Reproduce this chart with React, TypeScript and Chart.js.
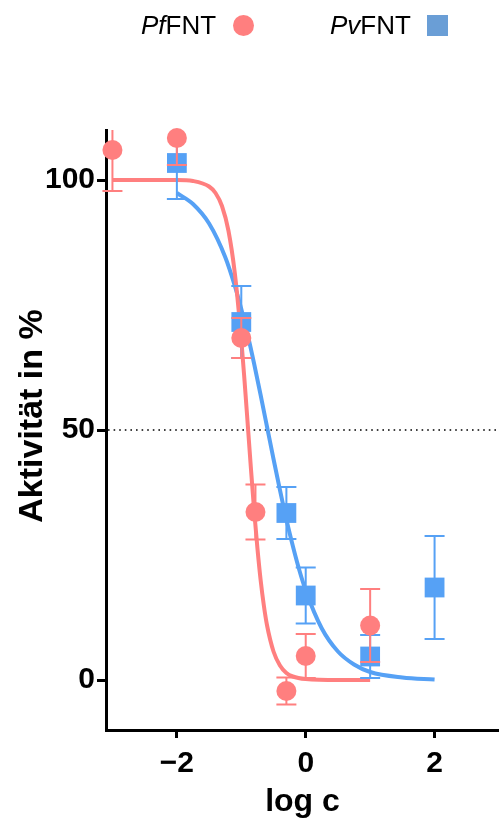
import React, { useEffect, useRef } from "react";
import { Chart, registerables } from "chart.js";

Chart.register(...registerables);

// ---- axis settings ----
const xTicks = [-2, 0, 2];
const yTicks = [0, 50, 100];
const xMin = -3.1;
const xMax = 3;
const yMin = -10;
const yMax = 110;
const halfActivity = 50;
const xTitle = "log c";
const yTitle = "Aktivität in %";

// ---- PfFNT measured points (log c, activity %, error) ----
const pfX = [-3, -2, -1, -0.78, -0.3, 0, 1];
const pfY = [106, 108.4, 68.4, 33.6, -2.2, 4.8, 10.9];
const pfErr = [8.2, 5.4, 4, 5.5, 2.7, 4.4, 7.3];

// ---- PvFNT measured points ----
const pvX = [-2, -1, -0.3, 0, 1, 2];
const pvY = [103.4, 71.6, 33.4, 16.9, 4.7, 18.5];
const pvErr = [7.2, 7.2, 5.2, 5.6, 4.3, 10.3];

// ---- fitted curves ----
const pfCurveX = [-3, -2.5, -2, -1.75, -1.5, -1.4, -1.3, -1.2, -1.1, -1.0, -0.95, -0.9, -0.85, -0.8, -0.75, -0.7, -0.65, -0.6, -0.5, -0.4, -0.3, -0.2, 0, 0.5, 1];
const pfCurveY = [100, 100, 100, 99.8, 98.7, 97.4, 94.8, 89.9, 81.3, 68.1, 59.9, 51.1, 42.2, 33.8, 26.4, 20.0, 14.9, 10.9, 5.7, 2.9, 1.4, 0.7, 0.2, 0, 0];

const pvCurveX = [-2, -1.75, -1.5, -1.25, -1.1, -1.0, -0.9, -0.8, -0.7, -0.6, -0.5, -0.4, -0.3, -0.2, -0.1, 0, 0.25, 0.5, 0.75, 1, 1.5, 2];
const pvCurveY = [97.4, 95.2, 91.3, 84.6, 78.8, 74.2, 69.0, 63.2, 57.0, 50.6, 44.2, 38.0, 32.1, 26.8, 22.0, 17.9, 10.3, 5.7, 3.1, 1.6, 0.5, 0.1];

const RED = "#FF7F7F";
const BLUE = "#56A1F5";
const BLUE_LEGEND = "#6A9ED6";
const FONT = "'Liberation Sans', Arial, Helvetica, sans-serif";
const W = 499;
const H = 821;

const zip = (xs: number[], ys: number[]) => xs.map((x, i) => ({ x, y: ys[i] }));

const errorBarPlugin = {
  id: "errorBars",
  beforeDatasetDraw(chart: any, args: any) {
    const ds = chart.data.datasets[args.index];
    if (!ds.errors) return;
    const { ctx } = chart;
    const xs = chart.scales.x;
    const ys = chart.scales.y;
    const cap = 10;
    ctx.save();
    ctx.strokeStyle = ds.errorColor;
    ctx.lineWidth = 2;
    ds.data.forEach((p: any, i: number) => {
      const e = ds.errors[i];
      const px = xs.getPixelForValue(p.x);
      const hi = p.y + e;
      const lo = p.y - e;
      const yHi = ys.getPixelForValue(Math.min(hi, ys.max));
      const yLo = ys.getPixelForValue(Math.max(lo, ys.min));
      ctx.beginPath();
      ctx.moveTo(px, yHi);
      ctx.lineTo(px, yLo);
      if (hi <= ys.max) {
        ctx.moveTo(px - cap, yHi);
        ctx.lineTo(px + cap, yHi);
      }
      if (lo >= ys.min) {
        ctx.moveTo(px - cap, yLo);
        ctx.lineTo(px + cap, yLo);
      }
      ctx.stroke();
    });
    ctx.restore();
  },
};

const refLinePlugin = {
  id: "refLine",
  beforeDatasetsDraw(chart: any) {
    const { ctx, chartArea } = chart;
    const y = chart.scales.y.getPixelForValue(halfActivity);
    ctx.save();
    ctx.strokeStyle = "#000";
    ctx.lineWidth = 1.6;
    ctx.setLineDash([1.6, 4]);
    ctx.beginPath();
    ctx.moveTo(chartArea.left + 2, y);
    ctx.lineTo(chartArea.right, y);
    ctx.stroke();
    ctx.restore();
  },
};

// y-axis title, drawn beside the axis and centred a little above the plot middle
const yTitlePlugin = {
  id: "yTitle",
  afterDraw(chart: any) {
    const { ctx, chartArea } = chart;
    const cy = (chartArea.top + chartArea.bottom) / 2 - 14;
    ctx.save();
    ctx.translate(33, cy);
    ctx.rotate(-Math.PI / 2);
    ctx.fillStyle = "#000";
    ctx.font = `bold 34px ${FONT}`;
    ctx.textAlign = "center";
    ctx.textBaseline = "middle";
    ctx.fillText(yTitle, 0, 0);
    ctx.restore();
  },
};

export default function App() {
  const canvasRef = useRef<HTMLCanvasElement | null>(null);

  useEffect(() => {
    if (!canvasRef.current) return;
    const chart = new Chart(canvasRef.current, {
      type: "scatter",
      data: {
        datasets: [
          {
            label: "PfFNT",
            data: zip(pfX, pfY),
            backgroundColor: RED,
            borderColor: RED,
            borderWidth: 0,
            pointStyle: "circle",
            pointRadius: 10,
            clip: false,
            order: 0,
            errors: pfErr,
            errorColor: RED,
          } as any,
          {
            label: "PvFNT",
            data: zip(pvX, pvY),
            backgroundColor: BLUE,
            borderColor: BLUE,
            borderWidth: 0,
            pointStyle: "rect",
            pointRadius: 14,
            clip: false,
            order: 1,
            errors: pvErr,
            errorColor: BLUE,
          } as any,
          {
            label: "PfFNT fit",
            data: zip(pfCurveX, pfCurveY),
            showLine: true,
            borderColor: RED,
            borderWidth: 4,
            pointRadius: 0,
            cubicInterpolationMode: "monotone",
            order: 2,
          } as any,
          {
            label: "PvFNT fit",
            data: zip(pvCurveX, pvCurveY),
            showLine: true,
            borderColor: BLUE,
            borderWidth: 4,
            pointRadius: 0,
            cubicInterpolationMode: "monotone",
            order: 3,
          } as any,
        ],
      },
      options: {
        animation: false,
        responsive: false,
        maintainAspectRatio: false,
        devicePixelRatio: 1,
        layout: { autoPadding: false, padding: { top: 130, left: 0, right: 0, bottom: 0 } },
        plugins: {
          legend: { display: false },
          tooltip: { enabled: false },
        },
        scales: {
          x: {
            type: "linear",
            min: xMin,
            max: xMax,
            afterBuildTicks: (s: any) => {
              s.ticks = xTicks.map((v) => ({ value: v }));
            },
            afterFit: (s: any) => {
              s.height = 91;
              s.paddingLeft = 0;
              s.paddingRight = 0;
            },
            border: { display: true, color: "#000", width: 3 },
            grid: {
              display: true,
              drawOnChartArea: false,
              drawTicks: true,
              tickLength: 8,
              tickWidth: 3,
              tickColor: "#000",
            },
            ticks: {
              color: "#000",
              padding: 8,
              font: { family: FONT, size: 30, weight: "bold" },
              callback: (v: any) => (Number(v) < 0 ? "\u2212" + Math.abs(Number(v)) : String(v)),
            },
            title: {
              display: true,
              text: xTitle,
              color: "#000",
              font: { family: FONT, size: 32, weight: "bold" },
              padding: { top: 0, bottom: 0 },
            },
          },
          y: {
            type: "linear",
            min: yMin,
            max: yMax,
            afterBuildTicks: (s: any) => {
              s.ticks = yTicks.map((v) => ({ value: v }));
            },
            afterFit: (s: any) => {
              s.width = 106;
              s.paddingTop = 0;
              s.paddingBottom = 0;
            },
            border: { display: true, color: "#000", width: 3 },
            grid: {
              display: true,
              drawOnChartArea: false,
              drawTicks: true,
              tickLength: 9,
              tickWidth: 3,
              tickColor: "#000",
            },
            ticks: {
              color: "#000",
              padding: 2,
              font: { family: FONT, size: 30, weight: "bold" },
            },
            title: { display: false },
          },
        },
      } as any,
      plugins: [refLinePlugin, errorBarPlugin, yTitlePlugin],
    });
    return () => chart.destroy();
  }, []);

  const legendText: React.CSSProperties = {
    position: "absolute",
    top: 12,
    fontFamily: FONT,
    fontSize: 26,
    lineHeight: "26px",
    color: "#000",
    whiteSpace: "nowrap",
  };

  return (
    <div
      style={{
        position: "fixed",
        left: 0,
        top: 0,
        width: W,
        height: H,
        overflow: "hidden",
        background: "#fff",
      }}
    >
      <canvas
        ref={canvasRef}
        width={W}
        height={H}
        style={{ position: "absolute", left: 0, top: 0, width: W, height: H, display: "block" }}
      />
      <span style={{ ...legendText, left: 141 }}>
        <i>Pf</i>FNT
      </span>
      <div
        style={{ position: "absolute", left: 233, top: 15, width: 21, height: 21, borderRadius: "50%", background: RED }}
      />
      <span style={{ ...legendText, left: 330 }}>
        <i>Pv</i>FNT
      </span>
      <div style={{ position: "absolute", left: 427, top: 15, width: 21, height: 21, background: BLUE_LEGEND }} />
    </div>
  );
}
